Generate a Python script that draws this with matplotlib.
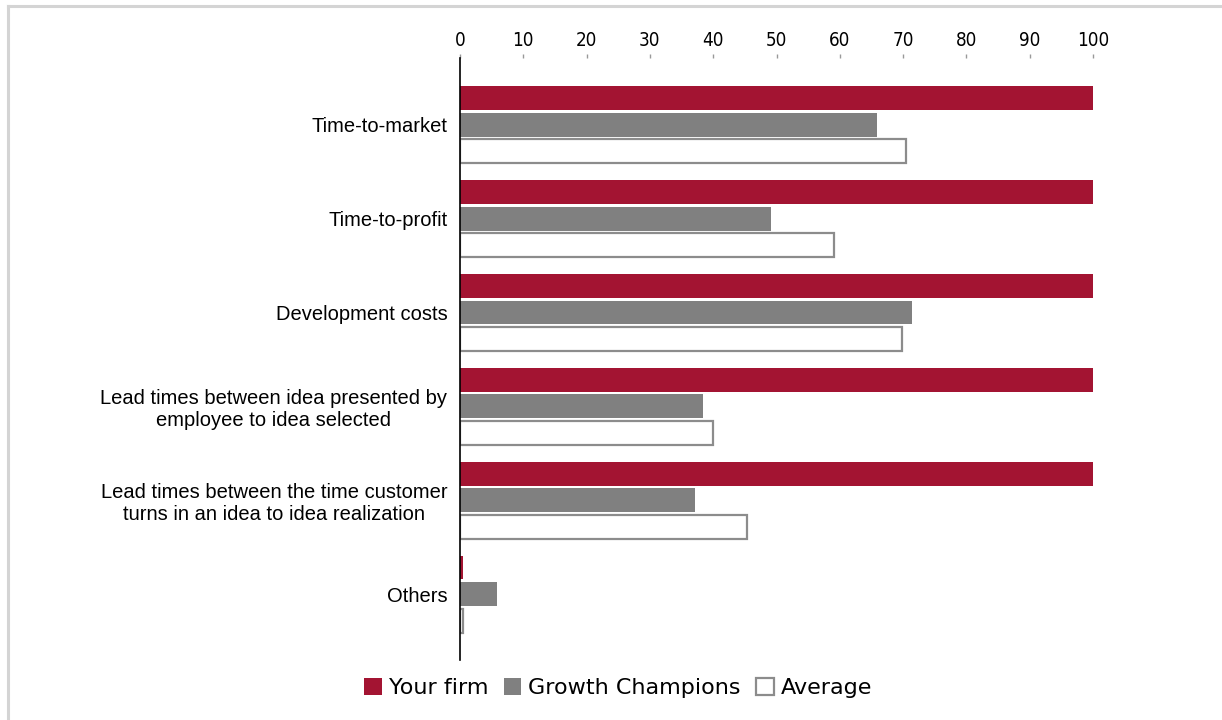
import numpy as np
import matplotlib
matplotlib.use("Agg")
import matplotlib.pyplot as plt
from matplotlib.lines import Line2D

# data
categories = [
    "Time-to-market",
    "Time-to-profit",
    "Development costs",
    "Lead times between idea presented by\nemployee to idea selected",
    "Lead times between the time customer\nturns in an idea to idea realization",
    "Others",
]
your_firm = [100, 100, 100, 100, 100, 0.4]
growth_champions = [65.8, 49.1, 71.4, 38.4, 37.2, 5.8]
average = [70.5, 59.1, 69.8, 40.0, 45.3, 0.4]
series_names = ["Your firm", "Growth Champions", "Average"]
x_ticks = list(range(0, 101, 10))

RED = "#A31432"
GRAY = "#808080"
EDGE = "#8c8c8c"

fig = plt.figure(figsize=(12.22, 7.2), dpi=100)
ax = fig.add_axes([460 / 1222, 1 - 660 / 720, (1093 - 460) / 1222, (660 - 58) / 720])

y = np.arange(len(categories))
h = 0.255
off = 0.285
ax.barh(y - off, your_firm, height=h, color=RED, label=series_names[0])
ax.barh(y, growth_champions, height=h, color=GRAY, label=series_names[1])
ax.barh(y + off, average, height=h, color="white", edgecolor=EDGE,
        linewidth=1.6, label=series_names[2])

ax.set_xlim(0, 100)
ax.set_ylim(5.7, -0.71)

ax.xaxis.tick_top()
ax.set_xticks(x_ticks)
ax.set_xticklabels([str(t) for t in x_ticks], fontfamily="DejaVu Sans",
                   fontsize=13.5, fontstretch="condensed")
ax.tick_params(axis="x", length=3, width=1, color="#999999", pad=2.5)

ax.set_yticks(y)
ax.set_yticklabels(categories, fontfamily="Liberation Sans", fontsize=14.5,
                   multialignment="center")
ax.tick_params(axis="y", length=0, pad=9)

for s in ["top", "right", "bottom"]:
    ax.spines[s].set_visible(False)
ax.spines["left"].set_color("black")
ax.spines["left"].set_linewidth(1.2)

fig.legend(loc="center", bbox_to_anchor=(618 / 1222, 1 - 688 / 720), ncol=3,
           frameon=False, handlelength=0.8, handleheight=0.8, handletextpad=0.3,
           columnspacing=0.7, prop={"family": "DejaVu Sans", "size": 16})

# light frame on top and left edges
fig.add_artist(Line2D([8 / 1222, 8 / 1222], [0, 1 - 6 / 720],
                      transform=fig.transFigure, color="#d4d4d4", linewidth=2.2))
fig.add_artist(Line2D([8 / 1222, 1], [1 - 6 / 720, 1 - 6 / 720],
                      transform=fig.transFigure, color="#d4d4d4", linewidth=2.2))

fig.savefig("out.png", dpi=100)
